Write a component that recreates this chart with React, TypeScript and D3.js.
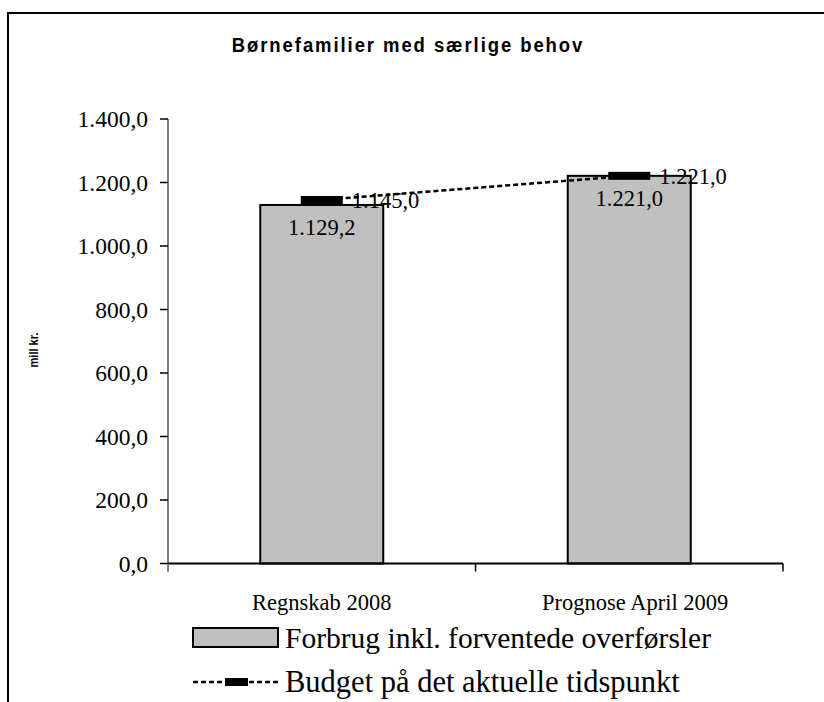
import * as d3 from 'd3'

const categories = ['Regnskab 2008', 'Prognose April 2009']
const forbrug = [1129.2, 1221.0]
const budget = [1145.0, 1221.0]
const yTicks = [0, 200, 400, 600, 800, 1000, 1200, 1400]

const W = 824
const H = 702
const serif = '"Liberation Serif", "Times New Roman", serif'
const sans = '"Liberation Sans Narrow", "Arial Narrow", "Liberation Sans", sans-serif'

// danish number format 1.129,2
const fmt = (v: number) => {
  const [i, d] = v.toFixed(1).split('.')
  return i.replace(/\B(?=(\d{3})+(?!\d))/g, '.') + ',' + d
}

export default function App() {
  const x = d3.scaleBand<string>()
    .domain(categories)
    .range([168, 783])
    .paddingInner(0.6)
    .paddingOuter(0.3)
  const xStep = x.step()
  const y = d3.scaleLinear().domain([0, 1400]).range([563.5, 119])

  const budgetLine = d3.line<number>()
    .x((_, i) => x(categories[i])! + x.bandwidth() / 2)
    .y(d => y(d))

  return (
    <div style={{ position: 'absolute', left: 0, top: 0 }}>
      <svg width={W} height={H} style={{ display: 'block', background: '#fff' }}>
        {/* outer frame */}
        <path d={`M8,${H} V13 H${W}`} fill="none" stroke="#000" strokeWidth={2} />

        <text transform="translate(408,45) scale(0.88,1)" textAnchor="middle" dominantBaseline="central"
          fontFamily={sans} fontWeight="bold" fontSize={21} letterSpacing={2.2}>
          Børnefamilier med særlige behov
        </text>

        <text transform={`translate(34,350) rotate(-90) scale(0.85,1)`} textAnchor="middle" dominantBaseline="central"
          fontFamily={sans} fontWeight="bold" fontSize={13}>
          mill kr.
        </text>

        {/* y axis */}
        <line x1={168} x2={168} y1={y(1400)} y2={y(0) + 8} stroke="#808080" strokeWidth={2} />
        {yTicks.map(t => (
          <g key={t}>
            <line x1={160} x2={168} y1={y(t)} y2={y(t)} stroke="#000" strokeWidth={1.5} />
            <text x={148} y={y(t)} textAnchor="end" dominantBaseline="central"
              fontFamily={serif} fontSize={23.5}>{fmt(t)}</text>
          </g>
        ))}

        {/* bars */}
        {categories.map((c, i) => (
          <g key={c}>
            <rect x={x(c)} y={y(forbrug[i])} width={x.bandwidth()} height={y(0) - y(forbrug[i])}
              fill="#c0c0c0" stroke="#000" strokeWidth={2} />
            <text x={x(c)! + x.bandwidth() / 2} y={y(forbrug[i]) + 23} textAnchor="middle"
              dominantBaseline="central" fontFamily={serif} fontSize={22.5}>{fmt(forbrug[i])}</text>
          </g>
        ))}

        {/* x axis */}
        <line x1={168} x2={783} y1={y(0)} y2={y(0)} stroke="#000" strokeWidth={2} />
        {[0, 1, 2].map(k => (
          <line key={k} x1={168 + k * xStep} x2={168 + k * xStep} y1={y(0)} y2={y(0) + 8}
            stroke={k === 0 ? '#808080' : '#000'} strokeWidth={1.5} />
        ))}
        {categories.map((c, i) => (
          <text key={c} x={x(c)! + x.bandwidth() / 2 + i * 6} y={602} textAnchor="middle" dominantBaseline="central"
            fontFamily={serif} fontSize={22.5}>{c}</text>
        ))}

        {/* budget line */}
        <path d={budgetLine(budget) ?? ''} fill="none" stroke="#000" strokeWidth={2.5} strokeDasharray="5,3" />
        {categories.map((c, i) => {
          const cx = x(c)! + x.bandwidth() / 2
          return (
            <g key={c}>
              <rect x={cx - 21} y={y(budget[i]) - 4} width={42} height={8} fill="#000" />
              <text x={cx + 30} y={y(budget[i]) + 1} dominantBaseline="central"
                fontFamily={serif} fontSize={22.5}>{fmt(budget[i])}</text>
            </g>
          )
        })}

        {/* legend */}
        <rect x={193} y={628} width={85} height={19} fill="#c0c0c0" stroke="#000" strokeWidth={2} />
        <text x={285} y={638} dominantBaseline="central" fontFamily={serif} fontSize={29.5}>
          Forbrug inkl. forventede overførsler
        </text>
        <line x1={193} x2={279} y1={682} y2={682} stroke="#000" strokeWidth={2.5} strokeDasharray="5,3" />
        <rect x={225} y={678} width={23} height={8} fill="#000" />
        <text x={285} y={682} dominantBaseline="central" fontFamily={serif} fontSize={30.5}>
          Budget på det aktuelle tidspunkt
        </text>
      </svg>
    </div>
  )
}
